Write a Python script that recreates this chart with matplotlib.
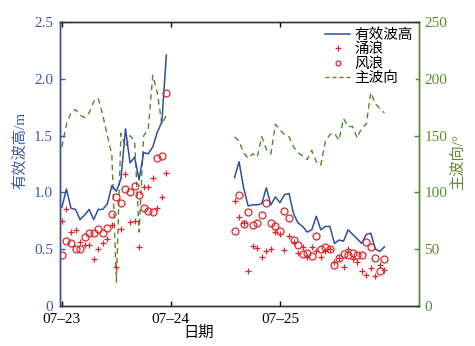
import numpy as np
import matplotlib
matplotlib.use("Agg")
import matplotlib.pyplot as plt
from matplotlib.lines import Line2D

plt.rcParams['font.family'] = ['Liberation Serif', 'Noto Sans CJK SC', 'DejaVu Sans']
plt.rcParams['axes.unicode_minus'] = False

# ---- data (hours since 07-23 00:00) ----
hours_a = [0, 1, 2, 3, 4, 5, 6, 7, 8, 9, 10, 11, 12, 13, 14, 15, 16, 17, 18, 19, 20, 21, 22, 23]
hs_a = [0.87, 1.03, 0.86, 0.85, 0.76, 0.80, 0.85, 0.76, 0.85, 0.85, 0.90, 1.06,
        1.01, 1.12, 1.56, 1.26, 1.31, 1.11, 1.35, 1.34, 1.40, 1.53, 1.62, 2.21]
swell_a = [0.75, 0.85, 0.65, 0.67, 0.56, 0.54, 0.54, 0.41, 0.50, 0.55, 0.59, 0.71,
           0.34, 0.68, 1.16, 0.74, 0.75, 0.52, 1.05, 1.05, 1.13, 0.86, 0.96, 1.17]
wind_a = [0.45, 0.57, 0.55, 0.50, 0.50, 0.61, 0.64, 0.64, 0.68, 0.64, 0.69, 0.81,
          0.96, 0.91, 1.03, 1.00, 1.06, 0.98, 0.86, 0.84, 0.83, 1.30, 1.32, 1.88]
dir_a = [140, 160, 170, 173, 168, 166, 170, 180, 183, 168, 150, 133,
         21, 152, 140, 150, 145, 65, 150, 155, 203, 188, 160, 168]

hours_b = [38, 39, 40, 41, 42, 43, 44, 45, 46, 47, 48, 49, 50, 51, 52, 53, 54,
           55, 56, 57, 58, 59, 60, 61, 62, 63, 64, 65, 66, 67, 68, 69, 70, 71]
hs_b = [1.13, 1.27, 1.04, 0.88, 0.89, 0.89, 0.90, 1.04, 0.89, 0.96, 0.91, 0.98,
        0.99, 0.81, 0.73, 0.70, 0.65, 0.67, 0.79, 0.67, 0.70, 0.70, 0.55, 0.58,
        0.57, 0.67, 0.63, 0.59, 0.55, 0.63, 0.64, 0.50, 0.48, 0.52]
swell_b = [0.92, 0.78, 0.73, 0.31, 0.53, 0.51, 0.43, 0.48, 0.50, 0.65, 0.63, 0.49,
           0.62, 0.56, 0.47, 0.52, 0.43, 0.52, 0.48, 0.43, 0.48, 0.50, 0.39, 0.42,
           0.34, 0.50, 0.41, 0.39, 0.31, 0.27, 0.33, 0.26, 0.36, 0.32]
wind_b = [0.66, 0.98, 0.72, 0.83, 0.71, 0.73, 0.80, 0.91, 0.73, 0.70, 0.66, 0.84,
          0.77, 0.58, 0.54, 0.46, 0.47, 0.44, 0.62, 0.50, 0.52, 0.50, 0.36, 0.42,
          0.46, 0.45, 0.47, 0.45, 0.45, 0.56, 0.52, 0.42, 0.31, 0.41]
dir_b = [149, 145, 135, 130, 134, 131, 149, 138, 134, 160, 155, 151, 149, 140,
         135, 132, 129, 137, 127, 124, 145, 151, 152, 146, 165, 158, 158, 148,
         157, 160, 188, 178, 174, 170]

tick_hours = [0, 24, 48]
tick_labels = ['07–23', '07–24', '07–25']

names = ['有效波高', '涌浪', '风浪', '主波向']

BLUE = '#2d4f9e'
RED = '#e0262c'
GREEN = '#4f8a2a'
BLUE_T = '#3b5c9c'
GREEN_T = '#5b8a2e'


def join(a, b):
    return np.concatenate([np.asarray(a, float), [np.nan], np.asarray(b, float)])


x = join(hours_a, hours_b)
hs = join(hs_a, hs_b)
sw = join(swell_a, swell_b)
wd = join(wind_a, wind_b)
dr = join(dir_a, dir_b)

fig = plt.figure(figsize=(4.75, 3.46), dpi=100)
ax = fig.add_axes([0.126, 0.116, 0.756, 0.820])
ax2 = ax.twinx()

ax.plot(x, hs, color=BLUE, lw=1.1, zorder=3)
ax.plot(x, sw, linestyle='none', marker='+', ms=5, mew=0.9, color=RED, zorder=4)
ax.plot(x, wd, linestyle='none', marker='o', ms=5, mew=0.9, mfc='none', mec=RED, zorder=4)
ax2.plot(x, dr, color=GREEN, lw=1.0, linestyle=(0, (4, 3)), zorder=2)

ax.set_xlim(-0.45, 78.6)
ax.set_ylim(0, 2.5)
ax2.set_ylim(0, 250)
ax.set_yticks([0, 0.5, 1.0, 1.5, 2.0, 2.5])
ax.set_yticklabels(['0', '0.5', '1.0', '1.5', '2.0', '2.5'])
ax2.set_yticks([0, 50, 100, 150, 200, 250])
ax.set_xticks(tick_hours)
ax.set_xticklabels(tick_labels)

ax.tick_params(axis='x', direction='in', top=True, length=3.5, width=1, labelsize=11, pad=5, colors='black')
ax.tick_params(axis='y', direction='in', length=3.5, width=1, labelsize=11, pad=5, colors=BLUE_T)
ax2.tick_params(axis='y', direction='in', length=3.5, width=1, labelsize=11, pad=4, colors=GREEN_T)

for a in (ax, ax2):
    a.spines['left'].set_color(BLUE)
    a.spines['right'].set_color(GREEN)
    a.spines['top'].set_color('#333333')
    a.spines['bottom'].set_color('#333333')
    for s in a.spines.values():
        s.set_linewidth(1.0)

fig.text(0.042, 0.566, '有效波高/m', rotation=90, color=BLUE_T, fontsize=11,
         ha='center', va='center')
fig.text(0.965, 0.532, '主波向/°', rotation=90, color=GREEN_T, fontsize=11,
         ha='center', va='center')
fig.text(0.417, 0.038, '日期', color='black', fontsize=11, ha='center', va='center')

handles = [
    Line2D([], [], color=BLUE, lw=1.1),
    Line2D([], [], linestyle='none', marker='+', ms=4, mew=0.9, color=RED),
    Line2D([], [], linestyle='none', marker='o', ms=3.5, mew=0.9, mfc='none', mec=RED),
    Line2D([], [], color=GREEN, lw=1.0, linestyle=(0, (3, 2))),
]
leg = ax.legend(handles, names, loc='upper right', bbox_to_anchor=(1.0, 1.0),
                frameon=True, fontsize=10.5, handlelength=1.7, handletextpad=0.3,
                labelspacing=0.05, borderpad=0.2, borderaxespad=0.2, numpoints=1)
leg.get_frame().set_edgecolor('none')
leg.get_frame().set_facecolor('white')
leg.set_zorder(10)
ax.set_zorder(ax2.get_zorder() + 1)
ax.patch.set_visible(False)

fig.savefig('out.png', dpi=100)
